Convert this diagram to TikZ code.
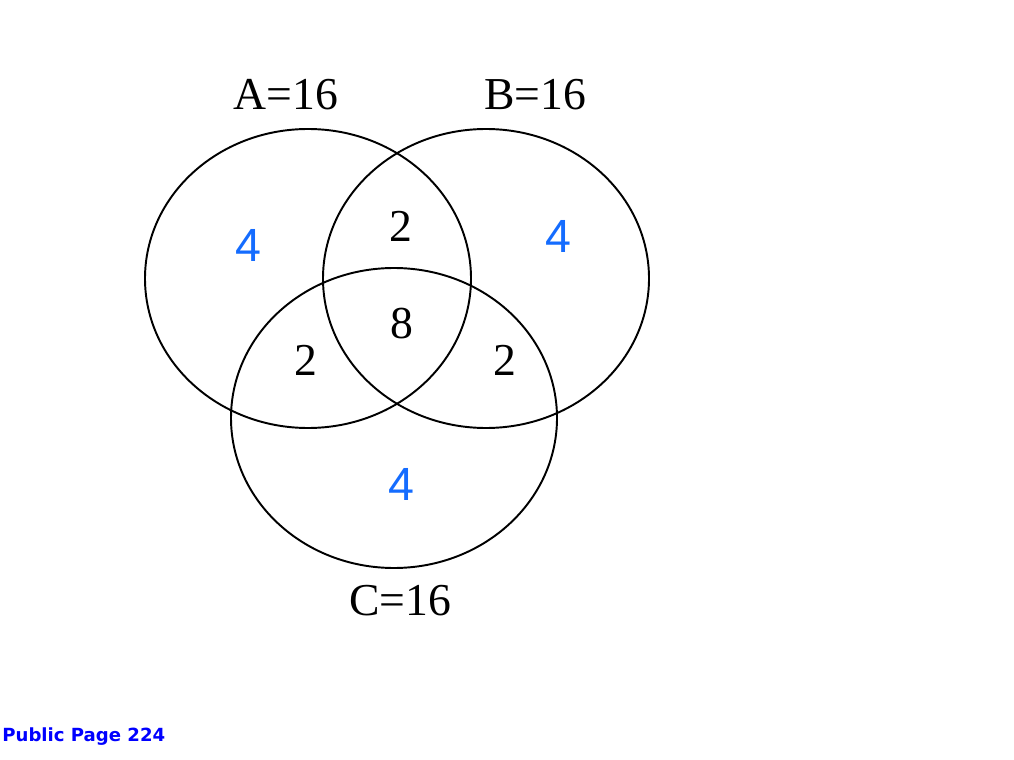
\documentclass[tikz,border=0pt]{standalone}
\usepackage{fontspec}
\setmainfont{Liberation Serif}
\newfontfamily\countface{Liberation Sans}
\newfontfamily\pageface{DejaVu Sans}
\usetikzlibrary{positioning}
\definecolor{countblue}{RGB}{20,108,255}
\definecolor{pageblue}{RGB}{0,0,255}

\begin{document}
\begin{tikzpicture}[
    x=0.02cm, y=-0.02cm,
    setline/.style={draw=black, line width=1.1pt},
    setname/.style={font=\fontsize{26}{28}\selectfont, anchor=base, inner sep=0pt},
    onlycount/.style={font=\countface\fontsize{26.5}{28}\selectfont, text=countblue, anchor=base, inner sep=0pt},
    sharecount/.style={font=\fontsize{26}{28}\selectfont, anchor=base, inner sep=0pt}
]
\useasboundingbox (0,0) rectangle (1014,760);

% the three sets
\draw [setline] (308,278.5) ellipse [x radius=163, y radius=149.5];
\draw [setline] (486,278.5) ellipse [x radius=163, y radius=149.5];
\draw [setline] (394,418) ellipse [x radius=163, y radius=150];

% set names
\node (nameA) [setname] at (286,110) {A=16};
\node (nameB) [setname] at (535,110) {B=16};
\node (nameC) [setname] at (400,615) {C=16};

% region counts
\node (onlyA) [onlycount] at (248,261) {4};
\node (onlyB) [onlycount] at (558,253) {4};
\node (onlyC) [onlycount] at (401,500) {4};
\node (AB) [sharecount] at (401,242) {2};
\node (AC) [sharecount] at (306,375) {2};
\node (BC) [sharecount] at (505,375) {2};
\node (ABC) [sharecount] at (402,338) {8};

\node (page) [anchor=base west, inner sep=0pt, text=pageblue, font=\pageface\bfseries\fontsize{10.3}{12}\selectfont] at (2,741) {Public Page 224};
\end{tikzpicture}
\end{document}
